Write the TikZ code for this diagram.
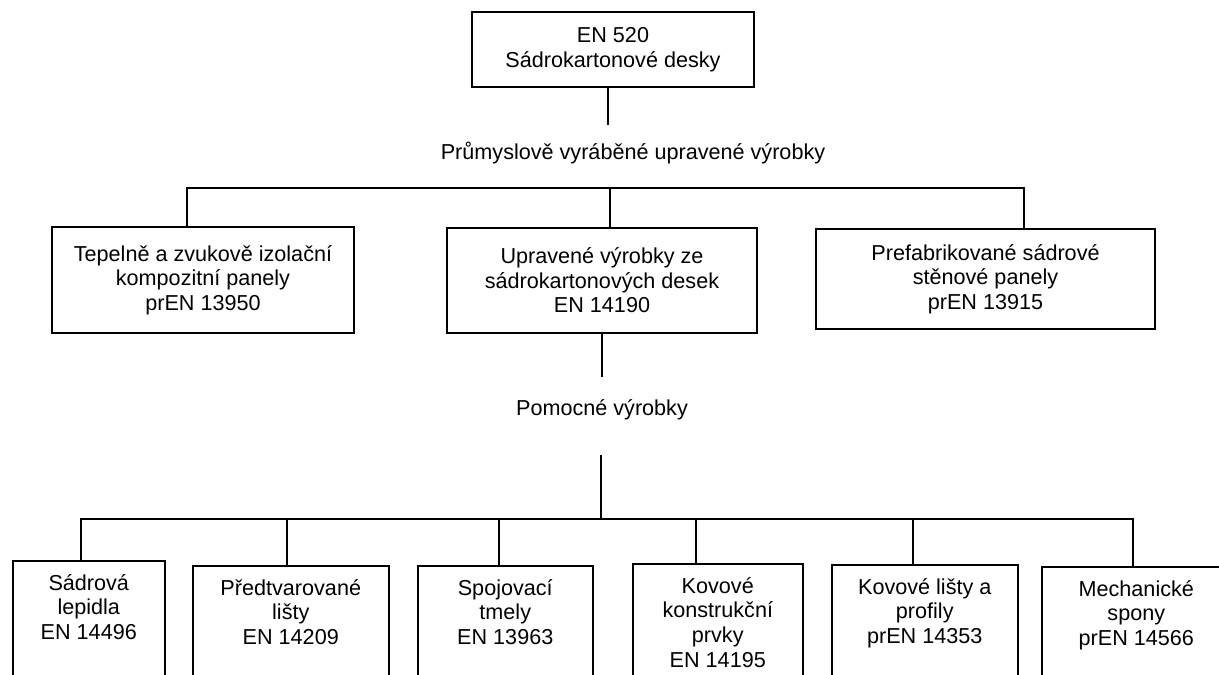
\documentclass[tikz,border=0pt]{standalone}
\usepackage{fontspec}
\setmainfont{Liberation Sans}
\usetikzlibrary{positioning}

\tikzset{
  box/.style={draw, line width=0.9pt, align=center, inner sep=0pt},
  lowbox/.style={draw, line width=0.9pt, anchor=north west, minimum height=2.8cm, inner sep=0pt},
  lowtext/.style={align=center, anchor=north, inner sep=0pt, yshift=-0.28cm},
  wire/.style={line width=0.9pt}
}

\begin{document}
\begin{tikzpicture}[x=0.02cm, y=-0.02cm, font=\fontsize{12.3}{14}\selectfont]
    \useasboundingbox (0,0) rectangle (1219,675);
    \clip (0,0) rectangle (1219,675);
    % Top box
    \node[box, minimum width=5.64cm, minimum height=1.5cm] (norm) at (613,49.5) {EN 520\\Sádrokartonové desky};
    % Group labels
    \node (prum) at (633,153) {Průmyslově vyráběné upravené výrobky};
    \node (pom) at (602,410) {Pomocné výrobky};
    % Upper row
    \node[box, minimum width=6.04cm, minimum height=2.12cm] (izol) at (203,280) {Tepelně a zvukově izolační\\kompozitní panely\\prEN 13950};
    \node[box, minimum width=6.2cm, minimum height=2.1cm] (upr) at (602,280.5) {Upravené výrobky ze\\sádrokartonových desek\\EN 14190};
    \node[box, minimum width=6.78cm, minimum height=2cm] (pref) at (985.5,279) {Prefabrikované sádrové\\stěnové panely\\prEN 13915};
    % Lower row
    \node[lowbox, minimum width=3.04cm] (lep) at (12,560) {};
    \node[lowtext] (lept) at (lep.north) {Sádrová\\lepidla\\EN 14496};
    \node[lowbox, minimum width=3.92cm] (lis) at (192,565) {};
    \node[lowtext] (list) at (lis.north) {Předtvarované\\lišty\\EN 14209};
    \node[lowbox, minimum width=3.5cm] (tmel) at (417,565) {};
    \node[lowtext] (tmelt) at (tmel.north) {Spojovací\\tmely\\EN 13963};
    \node[lowbox, minimum width=3.4cm] (kov) at (632,563) {};
    \node[lowtext] (kovt) at (kov.north) {Kovové\\konstrukční\\prvky\\EN 14195};
    \node[lowbox, minimum width=3.72cm] (prof) at (831,564) {};
    \node[lowtext] (proft) at (prof.north) {Kovové lišty a\\profily\\prEN 14353};
    \node[lowbox, minimum width=3.78cm] (spon) at (1041,566) {};
    \node[lowtext] (spont) at (spon.north) {Mechanické\\spony\\prEN 14566};
    % Top box down to the label
    \coordinate (t1) at (608,125);
    \draw[wire] (t1 |- norm.south) -- (t1);
    % Upper bus
    \coordinate (busL) at (187,188);
    \coordinate (busM) at (610,188);
    \coordinate (busR) at (1024,188);
    \draw[wire] (busL |- izol.north) -- (busL) -- (busR) -- (busR |- pref.north);
    \draw[wire] (busM) -- (busM |- upr.north);
    % Middle box down to the lower bus
    \coordinate (p1) at (602,377);
    \coordinate (p2) at (601,455);
    \coordinate (p3) at (601,519);
    \draw[wire] (upr.south) -- (p1);
    \draw[wire] (p2) -- (p3);
    % Lower bus
    \coordinate (bl) at (81,519);
    \coordinate (br) at (1133,519);
    \draw[wire] (bl |- lep.north) -- (bl) -- (br) -- (br |- spon.north);
    \foreach \n/\x in {lis/287, tmel/499, kov/696, prof/913} {
        \coordinate (k) at (\x,519);
        \draw[wire] (k) -- (k |- \n.north);
    }
\end{tikzpicture}
\end{document}
